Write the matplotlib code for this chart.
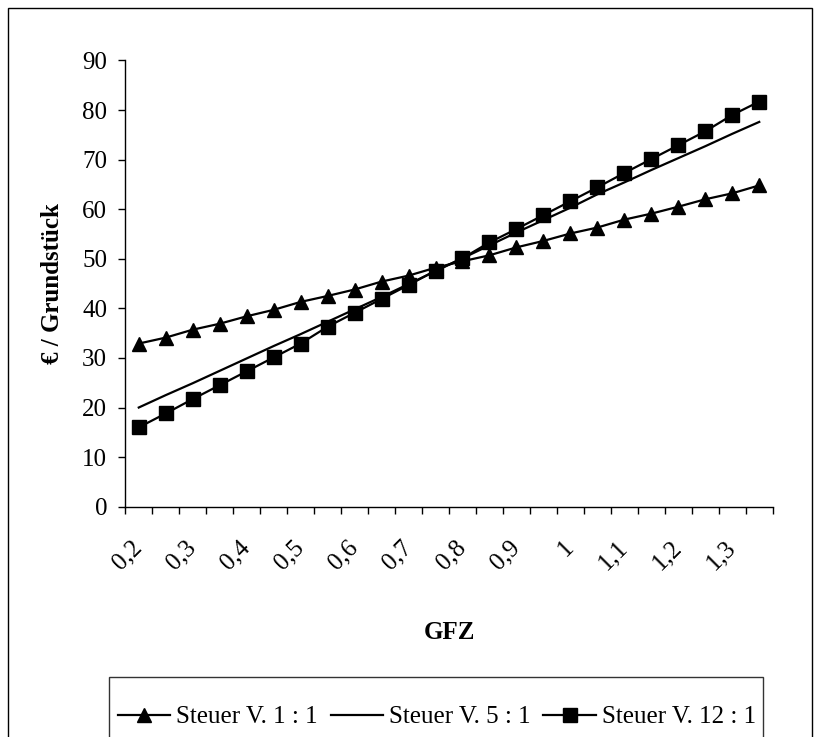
import numpy as np
import matplotlib
matplotlib.use('Agg')
import matplotlib.pyplot as plt
from matplotlib.patches import Rectangle
from matplotlib.transforms import ScaledTranslation

# GFZ-Stufen (Kategorien) und Steuerbelastung je Grundstück
gfz = [0.2, 0.25, 0.3, 0.35, 0.4, 0.45, 0.5, 0.55, 0.6, 0.65, 0.7, 0.75,
       0.8, 0.85, 0.9, 0.95, 1.0, 1.05, 1.1, 1.15, 1.2, 1.25, 1.3, 1.35]
steuer_1_1 = [32.9, 34.1, 35.7, 36.9, 38.4, 39.7, 41.3, 42.5, 43.8, 45.4, 46.6, 48.2,
              49.5, 50.7, 52.3, 53.6, 55.1, 56.3, 57.9, 59.1, 60.5, 62.0, 63.2, 64.8]
steuer_5_1 = [20.0, 22.5, 24.9, 27.4, 29.9, 32.4, 34.8, 37.3, 39.8, 42.3, 44.9, 47.5,
              50.1, 52.7, 55.3, 57.8, 60.3, 63.0, 65.4, 67.9, 70.3, 72.7, 75.2, 77.6]
steuer_12_1 = [16.0, 18.8, 21.7, 24.5, 27.3, 30.1, 32.9, 36.3, 39.1, 41.9, 44.7, 47.6,
               50.1, 53.3, 56.0, 58.8, 61.6, 64.4, 67.3, 70.1, 72.9, 75.7, 79.0, 81.7]

# nur jede zweite Kategorie beschriften, Dezimalkomma
gfz_labels = [f'{v:g}'.replace('.', ',') for v in gfz]

plt.rcParams['font.family'] = ['Liberation Serif', 'DejaVu Serif']
plt.rcParams['font.size'] = 18

fig = plt.figure(figsize=(8.14, 7.37), dpi=100)
ax = fig.add_axes([0.1539, 0.3125, 0.7954, 0.6055])

x = np.arange(len(gfz))
ax.plot(x, steuer_1_1, color='black', lw=1.6, marker='^', ms=10,
        label='Steuer V. 1 : 1')
ax.plot(x, steuer_5_1, color='black', lw=1.6, label='Steuer V. 5 : 1')
ax.plot(x, steuer_12_1, color='black', lw=1.6, marker='s', ms=9.5,
        label='Steuer V. 12 : 1')

ax.set_xlim(-0.5, len(gfz) - 0.5)
ax.set_ylim(0, 90)
ax.set_yticks(range(0, 91, 10))

ax.set_xticks(x[::2])
ax.set_xticklabels(gfz_labels[::2], rotation=45, ha='right', va='center',
                   rotation_mode='anchor')
shift = ScaledTranslation(-8 / 100, 0, fig.dpi_scale_trans)
for lbl in ax.get_xticklabels():
    lbl.set_transform(lbl.get_transform() + shift)
ax.set_xticks(np.arange(-0.5, len(gfz)), minor=True)
ax.tick_params(axis='x', which='major', length=0, pad=27)
ax.tick_params(axis='x', which='minor', length=5, width=1, direction='out')
ax.tick_params(axis='y', length=5, width=1, pad=8)

for s in ['top', 'right']:
    ax.spines[s].set_visible(False)
for s in ['left', 'bottom']:
    ax.spines[s].set_linewidth(1)

ax.set_xlabel('GFZ', fontweight='bold')
ax.xaxis.set_label_coords(0.5, -0.283)
ax.xaxis.label.set_va('center')
ax.set_ylabel('€ / Grundstück', fontweight='bold')
ax.yaxis.set_label_coords(-0.113, 0.5)
ax.yaxis.label.set_va('center')

# Legendenkasten (unten abgeschnitten) und Rahmen des Diagrammbereichs
fig.patches.append(Rectangle((109 / 814, -0.1), 654 / 814, 0.1 + 1 - 677 / 737,
                             transform=fig.transFigure, fill=False,
                             edgecolor='#333333', lw=1))
fig.patches.append(Rectangle((8 / 814, -0.1), 804 / 814, 0.1 + 1 - 8 / 737,
                             transform=fig.transFigure, fill=False,
                             edgecolor='black', lw=1))

ax.legend(loc='center', bbox_to_anchor=(437 / 814, 1 - 717 / 737),
          bbox_transform=fig.transFigure, ncol=3, frameon=False,
          handlelength=2.1, handletextpad=0.25, columnspacing=0.5,
          borderpad=0, fontsize=18)

fig.savefig('out.png', dpi=100)
